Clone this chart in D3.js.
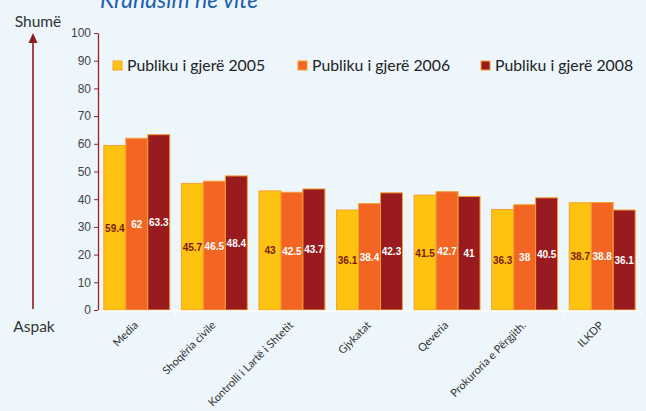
<!DOCTYPE html>
<html>
<head>
<meta charset="utf-8">
<script src="https://cdn.jsdelivr.net/npm/d3@7"></script>
<style>
  body { margin: 0; background: #ecf6fb; }
  svg { display: block; }
</style>
</head>
<body>
<svg id="chart" width="646" height="411"></svg>
<script>
// data
var categories = ["Media", "Shoqëria civile", "Kontrolli i Lartë i Shtetit", "Gjykatat", "Qeveria", "Prokuroria e Përgjith.", "ILKDP"];
var series = ["Publiku i gjerë 2005", "Publiku i gjerë 2006", "Publiku i gjerë 2008"];
var v2005 = [59.4, 45.7, 43, 36.1, 41.5, 36.3, 38.7];
var v2006 = [62, 46.5, 42.5, 38.4, 42.7, 38, 38.8];
var v2008 = [63.3, 48.4, 43.7, 42.3, 41, 40.5, 36.1];
var yTicks = [0, 10, 20, 30, 40, 50, 60, 70, 80, 90, 100];

var values = [v2005, v2006, v2008];
var colors = ["#fec210", "#f26522", "#991b1f"];
var labelColors = ["#7a1a10", "#ffffff", "#ffffff"];

var svg = d3.select("#chart"),
	pLeft = 98, pRight = 641, pTop = 33, pBottom = 310;

var x = d3.scaleBand().domain(categories).range([pLeft, pRight])
		.paddingInner(0.15).paddingOuter(0.075),
	xs = d3.scaleBand().domain(d3.range(series.length)).range([0, x.bandwidth()]),
	y = d3.scaleLinear().domain([0, 100]).range([pBottom, pTop]);

// title (cut off at the top)
svg.append("text")
	.attr("x", 100).attr("y", 8)
	.attr("font-family", "Lato, sans-serif")
	.attr("font-style", "italic")
	.attr("font-size", 23)
	.attr("fill", "#1f5fae")
	.text("Krahasim në vite");

// left arrow "Shumë" / "Aspak"
svg.append("line")
	.attr("x1", 33).attr("x2", 33).attr("y1", 42).attr("y2", y(0) - 1)
	.attr("stroke", "#8e1b1e").attr("stroke-width", 1.6);
svg.append("path")
	.attr("d", "M33,33 L28.5,43 L37.5,43 Z")
	.attr("fill", "#8e1b1e");
svg.append("text").attr("x", 38).attr("y", 27)
	.attr("text-anchor", "middle")
	.attr("font-family", "Lato, sans-serif").attr("font-size", 15.5)
	.attr("fill", "#333").text("Shumë");
svg.append("text").attr("x", 34).attr("y", 332)
	.attr("text-anchor", "middle")
	.attr("font-family", "Lato, sans-serif").attr("font-size", 15.5)
	.attr("fill", "#333").text("Aspak");

// bars
var groups = svg.selectAll("g.grp")
	.data(categories)
	.enter().append("g")
	.attr("class", "grp")
	.attr("transform", function(d) { return "translate(" + x(d) + ",0)"; });

series.forEach(function(s, j) {
	groups.append("rect")
		.attr("x", xs(j))
		.attr("width", xs.bandwidth())
		.attr("y", function(d, i) { return y(values[j][i]); })
		.attr("height", function(d, i) { return y(0) - y(values[j][i]); })
		.attr("fill", colors[j])
		.attr("stroke", "#f7a030")
		.attr("stroke-width", 1);
	groups.append("text")
		.attr("x", xs(j) + xs.bandwidth() / 2)
		.attr("y", function(d, i) { return (y(values[j][i]) + y(0)) / 2 + 4; })
		.attr("text-anchor", "middle")
		.attr("font-family", "Liberation Sans Narrow, Liberation Sans, Arial, sans-serif")
		.attr("font-weight", "bold")
		.attr("font-size", 10)
		.attr("fill", labelColors[j])
		.text(function(d, i) { return values[j][i]; });
});

// y axis
var yAxis = svg.append("g")
	.attr("transform", "translate(" + pLeft + ",0)")
	.call(d3.axisLeft(y).tickValues(yTicks).tickSize(4).tickSizeOuter(0));
yAxis.select(".domain").attr("stroke", "#a31f24").attr("stroke-width", 1.3);
yAxis.selectAll(".tick line").attr("stroke", "#a31f24");
yAxis.selectAll(".tick text")
	.attr("font-family", "Liberation Sans, Arial, sans-serif")
	.attr("font-size", 12)
	.attr("fill", "#444");

// x axis: white baseline with ticks between groups
svg.append("line")
	.attr("x1", pLeft).attr("x2", pRight)
	.attr("y1", y(0) + 1).attr("y2", y(0) + 1)
	.attr("stroke", "#ffffff").attr("stroke-width", 1.5);
svg.selectAll("line.sep")
	.data(categories)
	.enter().append("line")
	.attr("class", "sep")
	.attr("x1", function(d) { return x(d) + x.step() - x.step() * 0.075; })
	.attr("x2", function(d) { return x(d) + x.step() - x.step() * 0.075; })
	.attr("y1", y(0) + 1).attr("y2", y(0) + 5)
	.attr("stroke", "#ffffff").attr("stroke-width", 1.2);

svg.selectAll("text.cat")
	.data(categories)
	.enter().append("text")
	.attr("class", "cat")
	.attr("text-anchor", "end")
	.attr("font-family", "Lato, sans-serif")
	.attr("font-size", 11)
	.attr("fill", "#333")
	.attr("transform", function(d) {
		return "translate(" + (x(d) + x.bandwidth() / 2 + 2) + "," + (y(0) + 16) + ") rotate(-45)";
	})
	.text(function(d) { return d; });

// legend
var legendX = [113, 298, 481];
var legend = svg.selectAll("g.leg")
	.data(series)
	.enter().append("g")
	.attr("class", "leg")
	.attr("transform", function(d, i) { return "translate(" + legendX[i] + ",61)"; });
legend.append("rect")
	.attr("width", 9).attr("height", 9)
	.attr("fill", function(d, i) { return colors[i]; })
	.attr("stroke", "#f7a030").attr("stroke-width", 1);
legend.append("text")
	.attr("x", 14).attr("y", 10)
	.attr("font-family", "Lato, sans-serif")
	.attr("font-size", 15.8)
	.attr("fill", "#222")
	.text(function(d) { return d; });
</script>
</body>
</html>
